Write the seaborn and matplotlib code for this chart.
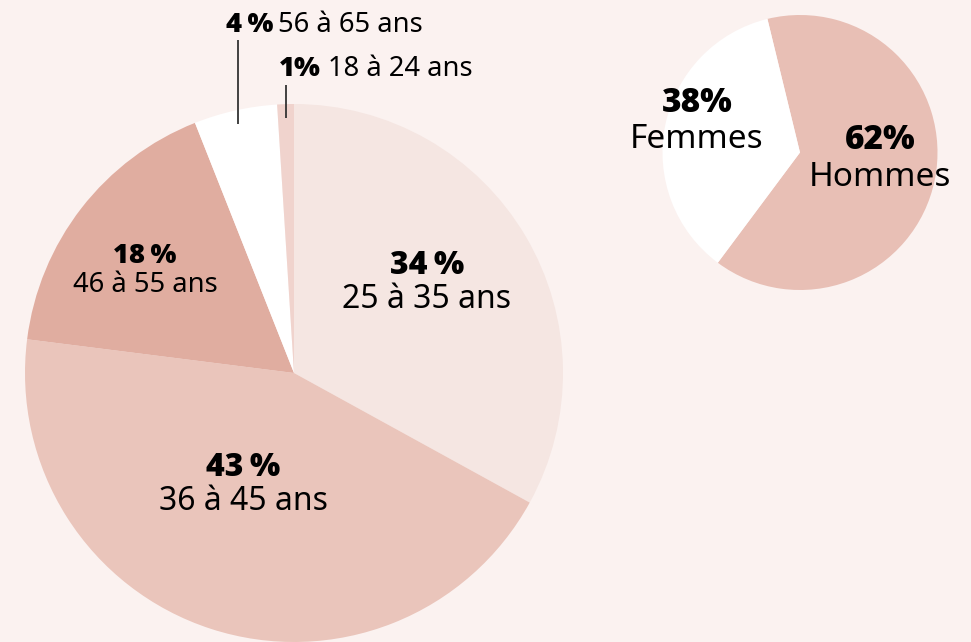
import numpy as np
import seaborn as sns
import matplotlib.pyplot as plt

# tranches d'age (ordre horaire depuis le haut)
ages = ['25 à 35 ans', '36 à 45 ans', '46 à 55 ans', '56 à 65 ans', '18 à 24 ans']
age_pct_labels = ['34\u202f%', '43\u202f%', '18\u202f%', '4\u202f%', '1%']
age_shares = [33, 44, 17, 5, 1]
age_colors = ['#f5e6e2', '#eac5bb', '#e0ada0', '#ffffff', '#f0d3cd']

# sexe
sexes = ['Hommes', 'Femmes']
sex_pct_labels = ['62%', '38%']
sex_shares = [64, 36]
sex_colors = ['#e8bfb5', '#ffffff']

bg = '#fbf2f0'
W, H = 971, 642

sns.set_theme(style='white')
plt.rcParams['font.family'] = ['Noto Sans', 'DejaVu Sans']

fig = plt.figure(figsize=(W / 100, H / 100), dpi=100, facecolor=bg)
ax = fig.add_axes([0, 0, 1, 1])
ax.set_facecolor(bg)

big_c, big_r = (294, H - 373), 269
small_c, small_r = (800, H - 152.5), 137.5

wedges_age, _ = ax.pie(age_shares, colors=age_colors, startangle=90, counterclock=False,
                       center=big_c, radius=big_r, wedgeprops=dict(linewidth=0))
wedges_sex, _ = ax.pie(sex_shares, colors=sex_colors, startangle=103.7, counterclock=False,
                       center=small_c, radius=small_r, wedgeprops=dict(linewidth=0))

ax.set_xlim(0, W)
ax.set_ylim(0, H)
ax.set_aspect('equal')
ax.axis('off')

BOLD = dict(family=['Open Sans', 'DejaVu Sans'], fontweight=800)

def inside_label(pct, txt, x, y, size, gap):
    ax.text(x, y, pct, ha='center', va='center', fontsize=size, color='black', **BOLD)
    ax.text(x, y - gap, txt, ha='center', va='center', fontsize=size, color='black')

# labels dans les parts
inside_label(age_pct_labels[0], ages[0], 427, H - 266, 23, 34)
inside_label(age_pct_labels[1], ages[1], 243, H - 468, 23, 34)
inside_label(age_pct_labels[2], ages[2], 145, H - 256, 19.7, 29)
inside_label(sex_pct_labels[1], sexes[1], 697, H - 103, 24, 37)
inside_label(sex_pct_labels[0], sexes[0], 880, H - 140, 24, 37)

# petites parts : traits + texte au-dessus
outside = [(3, 226, 278, 25, 40), (4, 279, 328, 69, 85)]
for i, xb, xr, ty, ltop in outside:
    w = wedges_age[i]
    mid = np.deg2rad((w.theta1 + w.theta2) / 2)
    px = big_c[0] + 0.95 * big_r * np.cos(mid)
    py = big_c[1] + 0.95 * big_r * np.sin(mid)
    ax.plot([px, px], [py, H - ltop], color='#333333', lw=1.3, solid_capstyle='butt')
    ax.text(xb, H - ty, age_pct_labels[i], ha='left', va='center', fontsize=19.7,
            color='black', **BOLD)
    ax.text(xr, H - ty, ages[i], ha='left', va='center', fontsize=19.7, color='black')

fig.savefig('out.png', dpi=100, facecolor=bg)
